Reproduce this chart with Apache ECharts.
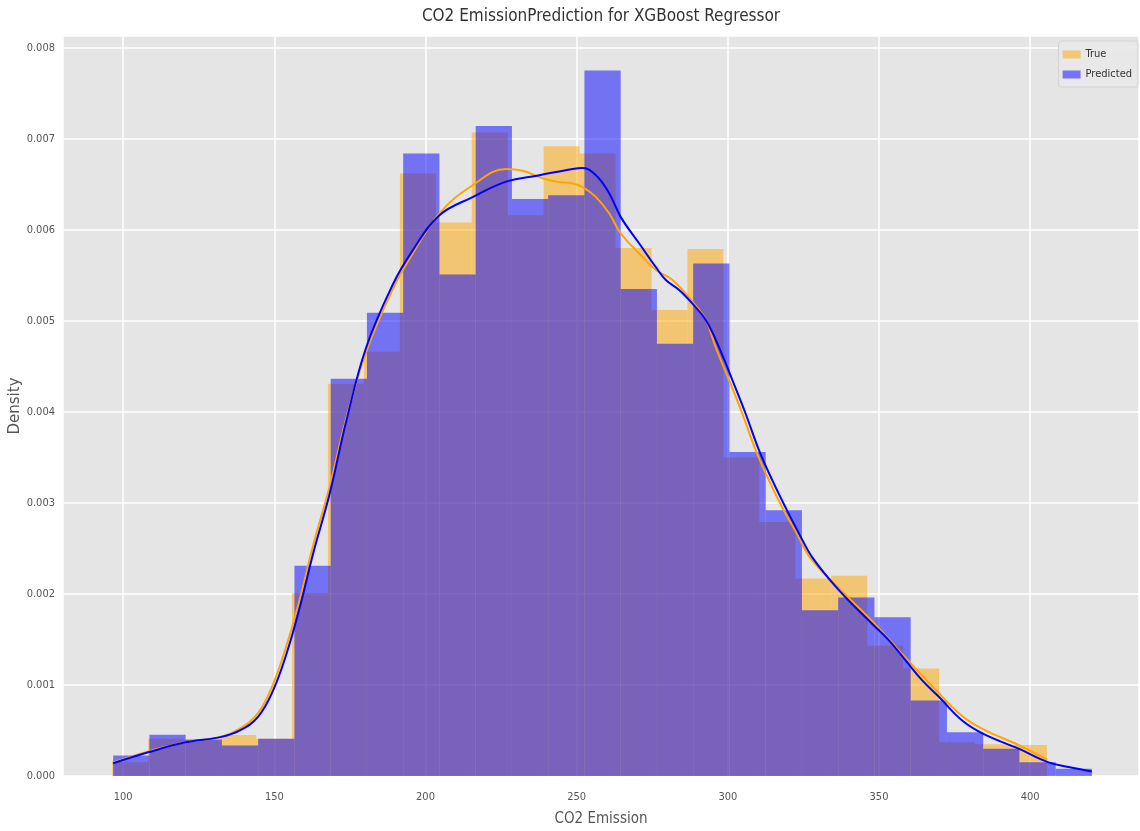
<!DOCTYPE html>
<html>
<head>
<meta charset="utf-8">
<title>CO2 EmissionPrediction for XGBoost Regressor</title>
<script src="https://cdn.jsdelivr.net/npm/echarts@6/dist/echarts.min.js"></script>
<style>
  html, body { margin: 0; padding: 0; background: #fff; }
  #chart { width: 1140px; height: 831px; }
</style>
</head>
<body>
<div id="chart"></div>
<script>
// histogram bins (density)
const trueBinStart = 96.4
const trueBinWidth = 11.89
const trueDensity = [
  0.00015, 0.00041, 0.000395, 0.00045, 0.00041, 0.00201, 0.00431, 0.00466,
  0.00662, 0.00608, 0.00707, 0.00616, 0.00692, 0.00684, 0.0058, 0.00512,
  0.00579, 0.0035, 0.00279, 0.00217, 0.0022, 0.00143, 0.00118, 0.00037,
  0.00035, 0.00034
]

const predBinStart = 96.7
const predBinWidth = 11.99
const predDensity = [
  0.000225, 0.000453, 0.0004, 0.000335, 0.00041, 0.00231, 0.004365, 0.00509,
  0.00684, 0.00551, 0.00714, 0.00634, 0.00638, 0.00775, 0.00535, 0.00475,
  0.00563, 0.00356, 0.00292, 0.00182, 0.00196, 0.001745, 0.00083, 0.00048,
  0.0003, 0.000152, 0.000079
]

// kde curves
const trueKdeX = [
  96.4, 108.3, 120.6, 132.5, 138.6, 144.6, 149.6, 154.0, 158.4, 162.8,
  168.3, 173.8, 180.4, 189.2, 194.5, 204.6, 215.6, 226.7, 232.2, 237.7,
  243.2, 248.7, 252.0, 256.4, 260.8, 264.6, 270.7, 276.2, 281.7, 288.3,
  292.7, 296.0, 300.4, 304.8, 309.2, 313.6, 318.0, 322.9, 327.2, 336.8,
  347.8, 358.8, 369.8, 377.5, 384.7, 396.2, 405.6
]
const trueKdeY = [
  0.000145, 0.00027, 0.00037, 0.00043, 0.00052, 0.00069, 0.00101, 0.00143, 0.00194, 0.00253,
  0.00318, 0.00393, 0.00466, 0.00535, 0.00567, 0.00618, 0.00649, 0.00667, 0.00665, 0.00658,
  0.00653, 0.00651, 0.00647, 0.00636, 0.00618, 0.00596, 0.00574, 0.00556, 0.00545, 0.00521,
  0.00501, 0.00471, 0.00435, 0.00398, 0.00358, 0.00325, 0.00295, 0.00266, 0.0024, 0.00206,
  0.0017, 0.0013, 0.00091, 0.00066, 0.00051, 0.00034, 0.00018
]

const predKdeX = [
  96.7, 108.3, 120.6, 132.5, 138.6, 144.6, 149.6, 154.0, 158.4, 162.8,
  168.3, 173.8, 180.4, 189.2, 195.3, 204.6, 215.6, 226.7, 237.7, 248.7,
  252.0, 256.4, 260.8, 264.6, 270.7, 276.2, 279.5, 283.9, 288.3, 292.7,
  297.1, 301.5, 305.9, 310.3, 314.7, 319.1, 323.6, 328.0, 336.8, 347.8,
  353.3, 358.8, 364.3, 369.8, 377.5, 384.7, 396.2, 406.1, 412.7, 420.4
]
const predKdeY = [
  0.00014, 0.00026, 0.00037, 0.00043, 0.0005, 0.00065, 0.00094, 0.00134, 0.00185, 0.00244,
  0.0031, 0.0039, 0.00471, 0.0054, 0.00575, 0.00616, 0.00636, 0.00653, 0.0066, 0.00667,
  0.00668, 0.0066, 0.0064, 0.00614, 0.00585, 0.00559, 0.00545, 0.00534, 0.00519, 0.00501,
  0.00471, 0.00435, 0.00398, 0.00358, 0.00325, 0.00295, 0.00266, 0.0024, 0.00204, 0.00167,
  0.00149, 0.00127, 0.00105, 0.00087, 0.00061, 0.00046, 0.0003, 0.00015, 0.0001, 0.00005
]

const condensed = "'DejaVu Sans Condensed', 'Liberation Sans Narrow', 'DejaVu Sans', sans-serif"

// [binStart, binEnd, density]
const toBins = (start, width, dens) => dens.map((d, i) => [start + i * width, start + (i + 1) * width, d])
const toPoints = (xs, ys) => xs.map((x, i) => [x, ys[i]])

const renderBin = (params, api) => {
  const topLeft = api.coord([api.value(0), api.value(2)])
  const bottomRight = api.coord([api.value(1), 0])
  return {
    type: 'rect',
    shape: {
      x: topLeft[0],
      y: topLeft[1],
      width: bottomRight[0] - topLeft[0],
      height: bottomRight[1] - topLeft[1]
    },
    style: api.style()
  }
}

const chart = echarts.init(document.getElementById('chart'))
const option = {
  animation: false,
  title: {
    text: 'CO2 EmissionPrediction for XGBoost Regressor',
    left: 601,
    textAlign: 'center',
    top: 8,
    padding: 0,
    textStyle: { fontFamily: condensed, fontSize: 17, fontWeight: 'normal', color: '#333' }
  },
  legend: {
    data: ['True', 'Predicted'],
    orient: 'vertical',
    right: 2,
    top: 41,
    itemWidth: 18,
    itemHeight: 8,
    itemGap: 9,
    padding: [8, 6, 7, 4],
    backgroundColor: 'rgba(232,232,232,0.9)',
    borderColor: '#d2d2d2',
    borderWidth: 1,
    borderRadius: 3,
    icon: 'rect',
    textStyle: { fontFamily: condensed, fontSize: 11, color: '#333' }
  },
  grid: {
    left: 63,
    right: 1,
    top: 36,
    bottom: 55,
    outerBoundsMode: 'none',
    show: true,
    backgroundColor: '#e5e5e5',
    borderWidth: 0
  },
  xAxis: {
    type: 'value',
    min: 80.1,
    max: 436,
    splitNumber: 7,
    name: 'CO2 Emission',
    nameLocation: 'middle',
    nameGap: 36,
    nameTextStyle: { fontFamily: condensed, fontSize: 15, color: '#555' },
    axisLine: { show: false },
    axisTick: { show: false },
    axisLabel: {
      showMinLabel: false,
      showMaxLabel: false,
      margin: 16,
      fontFamily: condensed,
      fontSize: 11,
      color: '#555'
    },
    splitLine: { lineStyle: { color: '#ffffff', width: 1.5 } }
  },
  yAxis: {
    type: 'value',
    min: 0,
    max: 0.00813,
    interval: 0.001,
    name: 'Density',
    nameLocation: 'middle',
    nameGap: 40,
    nameMoveOverlap: false,
    nameTextStyle: { fontFamily: "'DejaVu Sans', sans-serif", fontSize: 15, color: '#555' },
    axisLine: { show: false },
    axisTick: { show: false },
    axisLabel: {
      showMaxLabel: false,
      margin: 8,
      fontFamily: condensed,
      fontSize: 11,
      color: '#555',
      formatter: v => v.toFixed(3)
    },
    splitLine: { lineStyle: { color: '#ffffff', width: 1.5 } }
  },
  series: [
    {
      name: 'True',
      type: 'custom',
      renderItem: renderBin,
      encode: { x: [0, 1], y: 2 },
      itemStyle: { color: 'rgba(255,165,0,0.5)' },
      data: toBins(trueBinStart, trueBinWidth, trueDensity),
      z: 2
    },
    {
      name: 'Predicted',
      type: 'custom',
      renderItem: renderBin,
      encode: { x: [0, 1], y: 2 },
      itemStyle: { color: 'rgba(0,0,255,0.5)' },
      data: toBins(predBinStart, predBinWidth, predDensity),
      z: 3
    },
    {
      name: 'True KDE',
      type: 'line',
      smooth: 0.4,
      showSymbol: false,
      lineStyle: { color: '#ffa500', width: 2 },
      itemStyle: { color: '#ffa500' },
      data: toPoints(trueKdeX, trueKdeY),
      z: 4
    },
    {
      name: 'Predicted KDE',
      type: 'line',
      smooth: 0.4,
      showSymbol: false,
      lineStyle: { color: '#0000ff', width: 2 },
      itemStyle: { color: '#0000ff' },
      data: toPoints(predKdeX, predKdeY),
      z: 5
    }
  ]
}
chart.setOption(option)
</script>
</body>
</html>
